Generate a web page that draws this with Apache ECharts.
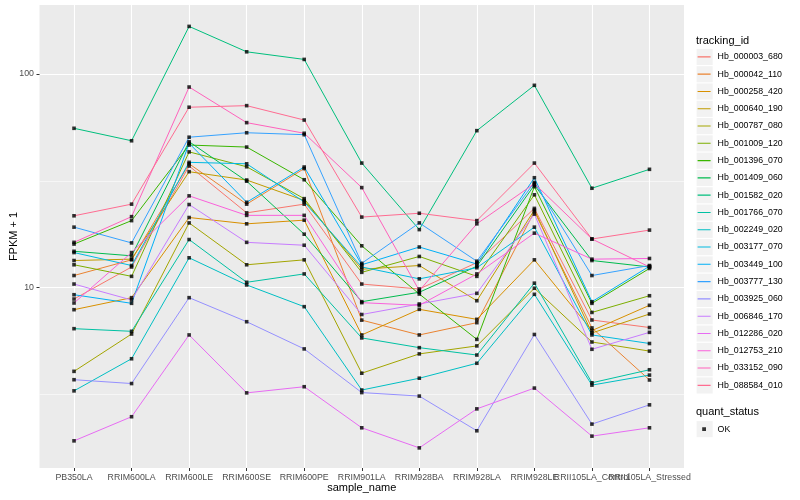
<!DOCTYPE html>
<html>
<head>
<meta charset="utf-8">
<script src="https://cdn.jsdelivr.net/npm/echarts@6/dist/echarts.min.js"></script>
<style>
html,body{margin:0;padding:0;background:#ffffff;}
#chart{width:800px;height:500px;}
</style>
</head>
<body>
<div id="chart"></div>
<script>
// ---- data ----
const categories = ['PB350LA','RRIM600LA','RRIM600LE','RRIM600SE','RRIM600PE','RRIM901LA','RRIM928BA','RRIM928LA','RRIM928LE','RRII105LA_Control','RRII105LA_Stressed'];
const trackingIds = ['Hb_000003_680','Hb_000042_110','Hb_000258_420','Hb_000640_190','Hb_000787_080','Hb_001009_120','Hb_001396_070','Hb_001409_060','Hb_001582_020','Hb_001766_070','Hb_002249_020','Hb_003177_070','Hb_003449_100','Hb_003777_130','Hb_003925_060','Hb_006846_170','Hb_012286_020','Hb_012753_210','Hb_033152_090','Hb_088584_010'];
const seriesColors = ['#F8766D','#EA8331','#D89000','#C09B00','#A3A500','#7CAE00','#39B600','#00BB4E','#00BF7D','#00C1A3','#00BFC4','#00BAE0','#00B0F6','#35A2FF','#9590FF','#C77CFF','#E76BF3','#FA62DB','#FF62BC','#FF6C91'];

const hb_000003_680 = [8.85, 12.5, 37.1, 22.4, 24.6, 10.4, 9.86, 13.1, 23.5, 7.06, 6.51];
const hb_000042_110 = [11.4, 13.5, 38.0, 24.6, 36.1, 7.05, 6.01, 6.86, 22.7, 6.48, 3.70];
const hb_000258_420 = [7.89, 8.98, 21.3, 19.9, 20.7, 6.01, 7.92, 7.11, 13.5, 6.30, 8.27];
const hb_000640_190 = [13.4, 13.6, 34.9, 31.9, 25.6, 12.2, 12.7, 8.69, 23.1, 6.14, 7.53];
const hb_000787_080 = [4.06, 6.07, 20.1, 12.8, 13.5, 3.98, 4.90, 5.34, 9.94, 5.57, 5.05];
const hb_001009_120 = [12.8, 11.3, 43.2, 36.8, 26.1, 11.8, 14.0, 11.3, 27.2, 7.66, 9.17];
const hb_001396_070 = [16.0, 20.6, 46.5, 45.5, 32.0, 15.7, 9.34, 5.73, 29.7, 8.45, 12.3];
const hb_001409_060 = [14.8, 14.1, 48.2, 31.5, 17.8, 8.60, 9.52, 12.6, 30.2, 13.4, 12.5];
const hb_001582_020 = [55.7, 48.7, 167, 127, 117, 38.3, 18.7, 54.3, 88.5, 29.2, 35.8];
const hb_001766_070 = [6.43, 6.25, 16.8, 10.6, 11.6, 5.82, 5.24, 4.84, 10.5, 3.59, 4.13];
const hb_002249_020 = [3.29, 4.65, 13.8, 10.3, 8.15, 3.32, 3.77, 4.43, 9.31, 3.50, 3.90];
const hb_003177_070 = [14.6, 12.7, 38.6, 38.0, 25.2, 12.5, 11.0, 12.4, 19.2, 6.01, 5.48];
const hb_003449_100 = [9.27, 8.45, 47.4, 25.1, 36.7, 12.8, 15.5, 12.9, 32.7, 8.60, 12.6];
const hb_003777_130 = [19.2, 16.2, 50.6, 53.1, 52.0, 13.0, 20.1, 13.3, 31.1, 11.4, 12.7];
const hb_003925_060 = [3.71, 3.56, 8.98, 6.93, 5.17, 3.23, 3.11, 2.14, 6.04, 2.30, 2.83];
const hb_006846_170 = [10.4, 8.76, 24.5, 16.3, 15.8, 7.49, 8.39, 9.41, 22.1, 5.15, 6.18];
const hb_012286_020 = [1.92, 2.49, 6.01, 3.22, 3.44, 2.21, 1.78, 2.71, 3.39, 2.02, 2.21];
const hb_012753_210 = [8.48, 14.6, 26.9, 21.8, 21.8, 8.51, 8.27, 11.6, 18.0, 13.6, 13.7];
const hb_033152_090 = [16.3, 21.5, 86.9, 59.2, 52.8, 29.4, 9.68, 19.9, 30.7, 16.9, 12.5];
const hb_088584_010 = [21.7, 24.6, 69.9, 71.1, 60.9, 21.4, 22.3, 20.6, 38.3, 16.9, 18.6];

const seriesValues = [hb_000003_680, hb_000042_110, hb_000258_420, hb_000640_190, hb_000787_080,
  hb_001009_120, hb_001396_070, hb_001409_060, hb_001582_020, hb_001766_070, hb_002249_020,
  hb_003177_070, hb_003449_100, hb_003777_130, hb_003925_060, hb_006846_170, hb_012286_020,
  hb_012753_210, hb_033152_090, hb_088584_010];

const quantStatus = ['OK'];
const yMajorTicks = [10, 100];
const yMinorTicks = [3.1623, 31.623];
const yMin = 1.433, yMax = 210.3;

// ---- chart ----
const FONT = '"Liberation Sans", Arial, Helvetica, sans-serif';
const xTickValues = categories.map((c, i) => i);
// the crowded label is drawn by a second, label-only x axis so both neighbours stay visible
const xLabelsA = xTickValues.filter(i => i !== 9);
const xLabelsB = [9];

const lineSeries = trackingIds.map((id, i) => ({
  name: id,
  type: 'line',
  xAxisIndex: 0,
  yAxisIndex: 0,
  data: seriesValues[i].map((v, j) => [j, v]),
  symbol: 'none',
  showSymbol: false,
  color: seriesColors[i],
  lineStyle: { width: 1, color: seriesColors[i] },
  itemStyle: { color: seriesColors[i] },
  emphasis: { disabled: true },
  silent: true,
  z: 2
}));

const pointSeries = {
  name: quantStatus[0],
  type: 'scatter',
  xAxisIndex: 0,
  yAxisIndex: 0,
  symbol: 'rect',
  symbolSize: 3.6,
  itemStyle: { color: '#000000' },
  color: '#000000',
  data: seriesValues.flatMap(vals => vals.map((v, j) => [j, v])),
  emphasis: { disabled: true },
  silent: true,
  z: 3
};

const legendStep = 17.29;
const legendTop = 48.3;
const keyBoxes = trackingIds.map((id, i) => ({
  type: 'rect',
  silent: true,
  z: 0,
  shape: { x: 696.6, y: legendTop + 0.6 + i * legendStep, width: 16.1, height: 16.1 },
  style: { fill: '#F2F2F2' }
}));
keyBoxes.push({
  type: 'rect', silent: true, z: 0,
  shape: { x: 696.6, y: 421.1, width: 16.1, height: 16.1 },
  style: { fill: '#F2F2F2' }
});

const lineIcon = 'path://M0,0h0.01v0.01h-0.01z M2,8h13v1.1h-13z M17,17h0.01v0.01h-0.01z';
const pointIcon = 'path://M0,0h0.01v0.01h-0.01z M6.6,6.6h3.8v3.8h-3.8z M17,17h0.01v0.01h-0.01z';

const labelStyle = { color: '#4D4D4D', fontSize: 8.8, fontFamily: FONT };

const option = {
  animation: false,
  backgroundColor: '#ffffff',
  textStyle: { fontFamily: FONT },
  title: [
    { text: 'tracking_id', left: 696, top: 35, padding: 0,
      textStyle: { fontSize: 11, fontWeight: 'normal', color: '#000000', fontFamily: FONT } },
    { text: 'quant_status', left: 696, top: 406.5, padding: 0,
      textStyle: { fontSize: 11, fontWeight: 'normal', color: '#000000', fontFamily: FONT } }
  ],
  grid: {
    left: 39.5, right: 116, top: 5, bottom: 32,
    show: true, backgroundColor: '#EBEBEB', borderWidth: 0,
    containLabel: false,
    outerBoundsMode: 'none'
  },
  legend: [
    {
      data: trackingIds,
      orient: 'vertical',
      left: 695.6, top: legendTop,
      padding: 0,
      itemWidth: 17, itemHeight: 17, itemGap: legendStep - 17,
      icon: lineIcon,
      selectedMode: false,
      textStyle: { fontSize: 8.8, color: '#000000', fontFamily: FONT }
    },
    {
      data: quantStatus,
      orient: 'vertical',
      left: 695.6, top: 420.6,
      padding: 0,
      itemWidth: 17, itemHeight: 17,
      icon: pointIcon,
      selectedMode: false,
      textStyle: { fontSize: 8.8, color: '#000000', fontFamily: FONT }
    }
  ],
  graphic: keyBoxes,
  xAxis: [
    {
      type: 'value', position: 'bottom',
      min: -0.6, max: 10.6,
      axisLine: { show: false, onZero: false },
      axisTick: { show: true, customValues: xTickValues, length: 3, lineStyle: { color: '#333333', width: 1 } },
      axisLabel: Object.assign({ customValues: xLabelsA, formatter: v => categories[Math.round(v)],
        showMinLabel: true, showMaxLabel: true, hideOverlap: false, margin: 5 }, labelStyle),
      splitLine: { show: true, lineStyle: { color: '#ffffff', width: 1.1 } },
      name: 'sample_name', nameLocation: 'middle', nameGap: 14.5, nameMoveOverlap: false,
      nameTextStyle: { fontSize: 11, color: '#000000', fontFamily: FONT }
    },
    {
      type: 'value', position: 'bottom', offset: 0,
      min: -0.6, max: 10.6,
      axisLine: { show: false, onZero: false },
      axisTick: { show: false, customValues: xLabelsB },
      axisLabel: Object.assign({ customValues: xLabelsB, formatter: v => categories[Math.round(v)],
        showMinLabel: true, showMaxLabel: true, hideOverlap: false, margin: 5 }, labelStyle),
      splitLine: { show: false }
    }
  ],
  yAxis: [
    {
      type: 'log', logBase: 10, min: yMin, max: yMax,
      axisLine: { show: false, onZero: false },
      axisTick: { show: true, customValues: yMajorTicks, length: 3, lineStyle: { color: '#333333', width: 1 } },
      axisLabel: Object.assign({ customValues: yMajorTicks, formatter: v => String(Math.round(v)),
        showMinLabel: true, showMaxLabel: true, margin: 5.5 }, labelStyle),
      splitLine: { show: true, lineStyle: { color: '#ffffff', width: 1.1 } },
      minorSplitLine: { show: false },
      name: 'FPKM + 1', nameLocation: 'middle', nameGap: 20, nameRotate: 90, nameMoveOverlap: false,
      nameTextStyle: { fontSize: 11, color: '#000000', fontFamily: FONT }
    },
    {
      type: 'log', logBase: 10, min: yMin, max: yMax,
      position: 'left',
      axisLine: { show: false, onZero: false },
      axisTick: { show: false, customValues: yMinorTicks },
      axisLabel: { show: false, customValues: yMinorTicks },
      splitLine: { show: true, lineStyle: { color: '#ffffff', width: 0.55 } }
    }
  ],
  series: lineSeries.concat([pointSeries])
};

const chart = echarts.init(document.getElementById('chart'), null, { renderer: 'canvas' });
chart.setOption(option);
</script>
</body>
</html>
